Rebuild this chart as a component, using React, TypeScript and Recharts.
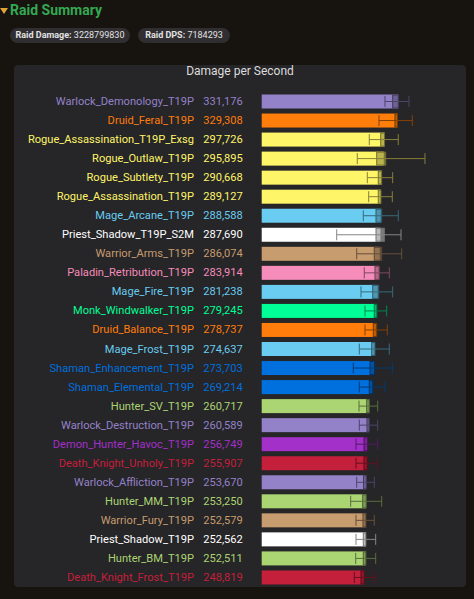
import React from "react";
import { BarChart, Bar, XAxis, YAxis } from "recharts";

const names = [
  "Warlock_Demonology_T19P",
  "Druid_Feral_T19P",
  "Rogue_Assassination_T19P_Exsg",
  "Rogue_Outlaw_T19P",
  "Rogue_Subtlety_T19P",
  "Rogue_Assassination_T19P",
  "Mage_Arcane_T19P",
  "Priest_Shadow_T19P_S2M",
  "Warrior_Arms_T19P",
  "Paladin_Retribution_T19P",
  "Mage_Fire_T19P",
  "Monk_Windwalker_T19P",
  "Druid_Balance_T19P",
  "Mage_Frost_T19P",
  "Shaman_Enhancement_T19P",
  "Shaman_Elemental_T19P",
  "Hunter_SV_T19P",
  "Warlock_Destruction_T19P",
  "Demon_Hunter_Havoc_T19P",
  "Death_Knight_Unholy_T19P",
  "Warlock_Affliction_T19P",
  "Hunter_MM_T19P",
  "Warrior_Fury_T19P",
  "Priest_Shadow_T19P",
  "Hunter_BM_T19P",
  "Death_Knight_Frost_T19P",
];

const dpsValues = [
  331176, 329308, 297726, 295895, 290668, 289127, 288588, 287690, 286074, 283914,
  281238, 279245, 278737, 274637, 273703, 269214, 260717, 260589, 256749, 255907,
  253670, 253250, 252579, 252562, 252511, 248819,
];

const boxLow = [
  317500, 323100, 288500, 278800, 282600, 282600, 277100, 277100, 272900, 274600,
  269100, 272900, 270500, 266600, 262500, 260800, 254500, 255200, 248000, 248000,
  246800, 244800, 245500, 246300, 246300, 240700,
];

const boxHigh = [
  331200, 329300, 297700, 300600, 290700, 289100, 290900, 297200, 290900, 285100,
  283600, 279200, 278700, 274600, 273700, 269200, 260700, 260600, 256700, 255900,
  253700, 253300, 252600, 252600, 252500, 248800,
];

const rangeLow = [
  298900, 284300, 260800, 231700, 256000, 259400, 246300, 181800, 230300, 248700,
  240700, 250400, 250400, 236600, 222000, 236600, 235900, 236600, 228600, 228600,
  230300, 215700, 228600, 228600, 227900, 224500,
];

const rangeHigh = [
  357000, 365100, 331100, 395800, 317500, 316600, 331100, 337700, 339400, 309300,
  317500, 303000, 304500, 309300, 316600, 298900, 281200, 281200, 281200, 278800,
  272900, 290900, 272900, 276300, 276300, 272900,
];

const raidDamage = "3228799830";
const raidDps = "7184293";

const classColors: [string, string][] = [
  ["Death_Knight", "#C41F3B"],
  ["Demon_Hunter", "#A330C9"],
  ["Warlock", "#9482C9"],
  ["Warrior", "#C79C6E"],
  ["Druid", "#FF7D0A"],
  ["Rogue", "#FFF569"],
  ["Mage", "#69CCF0"],
  ["Priest", "#FFFFFF"],
  ["Paladin", "#F58CBA"],
  ["Monk", "#00FF96"],
  ["Shaman", "#0070DE"],
  ["Hunter", "#ABD473"],
];

function colorFor(name: string): string {
  const hit = classColors.find(([p]) => name.startsWith(p));
  return hit ? hit[1] : "#cccccc";
}

function shade(hex: string, f: number): string {
  const n = parseInt(hex.slice(1), 16);
  const r = Math.round(((n >> 16) & 255) * f);
  const g = Math.round(((n >> 8) & 255) * f);
  const b = Math.round((n & 255) * f);
  return `rgb(${r},${g},${b})`;
}

const data = names.map((name, i) => ({
  name,
  dps: dpsValues[i],
  boxLo: boxLow[i],
  boxHi: boxHigh[i],
  lo: rangeLow[i],
  hi: rangeHigh[i],
  color: colorFor(name),
}));

const FONT = "Roboto, 'Noto Sans', sans-serif";

function BarShape(props: any) {
  const { x, y, width, height, payload } = props;
  if (!payload || !width) return null;
  const ppu = width / payload.dps;
  const X = (v: number) => x + v * ppu;
  const c = payload.color;
  const cy = y + height / 2;
  const wc = shade(c, 0.52);
  return (
    <g>
      <rect x={x} y={y} width={width} height={height} fill={c} />
      <rect
        x={X(payload.boxLo)}
        y={y + 0.5}
        width={X(payload.boxHi) - X(payload.boxLo)}
        height={height - 1}
        fill={shade(c, 0.62)}
        fillOpacity={0.7}
        stroke={shade(c, 0.45)}
        strokeWidth={1}
      />
      <line x1={X(payload.lo)} x2={X(payload.hi)} y1={cy} y2={cy} stroke={wc} strokeWidth={1} />
      <line x1={X(payload.lo)} x2={X(payload.lo)} y1={cy - 5.5} y2={cy + 5.5} stroke={wc} strokeWidth={1} />
      <line x1={X(payload.hi)} x2={X(payload.hi)} y1={cy - 5.5} y2={cy + 5.5} stroke={wc} strokeWidth={1} />
    </g>
  );
}

function NameTick(props: any) {
  const { x, y, payload } = props;
  const idx = names.indexOf(payload.value);
  const c = colorFor(payload.value);
  return (
    <g>
      <text x={x - 67.7} y={y} dy="0.36em" textAnchor="end" fill={c} fontSize={11.1} fontFamily={FONT}>
        {payload.value}
      </text>
      <text x={x - 58.5} y={y} dy="0.36em" textAnchor="start" fill={c} fontSize={11.1} fontFamily={FONT}>
        {idx >= 0 ? dpsValues[idx].toLocaleString("en-US") : ""}
      </text>
    </g>
  );
}

function Pill({ label, value, left, width }: { label: string; value: string; left: number; width: number }) {
  return (
    <div
      style={{
        position: "absolute",
        left,
        top: 28,
        width,
        height: 15,
        borderRadius: 8,
        background: "#302e31",
        color: "#e2e2e2",
        fontFamily: FONT,
        fontSize: 9,
        lineHeight: "15px",
        textAlign: "center",
        whiteSpace: "nowrap",
      }}
    >
      <b>{label}</b> {value}
    </div>
  );
}

export default function App() {
  return (
    <div
      style={{
        position: "absolute",
        left: 0,
        top: 0,
        width: 474,
        height: 599,
        background: "#17130f",
        overflow: "hidden",
      }}
    >
      <div
        style={{
          position: "absolute",
          left: 0,
          top: 2,
          width: 0,
          height: 0,
          borderLeft: "4px solid transparent",
          borderRight: "4px solid transparent",
          borderTop: "6px solid #e0a33a",
          marginTop: 6,
        }}
      />
      <div
        style={{
          position: "absolute",
          left: 10,
          top: 1,
          fontFamily: FONT,
          fontWeight: 700,
          fontSize: 14,
          lineHeight: "18px",
          color: "#34a853",
        }}
      >
        Raid Summary
      </div>
      <Pill label="Raid Damage:" value={raidDamage} left={10} width={120} />
      <Pill label="Raid DPS:" value={raidDps} left={138} width={92} />
      <div
        style={{
          position: "absolute",
          left: 14,
          top: 65,
          width: 452,
          height: 522,
          background: "#262528",
          borderRadius: 4,
        }}
      />
      <div
        style={{
          position: "absolute",
          left: 14,
          top: 63,
          width: 452,
          textAlign: "center",
          fontFamily: FONT,
          fontSize: 12,
          lineHeight: "16px",
          color: "#dcdcdc",
        }}
      >
        Damage per Second
      </div>
      <div style={{ position: "absolute", left: 0, top: 0 }}>
        <BarChart
          width={474}
          height={599}
          data={data}
          layout="vertical"
          margin={{ top: 91.5, bottom: 12.5, left: 0, right: 47.3 }}
          barSize={14}
        >
          <XAxis type="number" domain={[0, 400000]} hide />
          <YAxis
            type="category"
            dataKey="name"
            width={261.7}
            axisLine={false}
            tickLine={false}
            tickSize={0}
            tickMargin={0}
            interval={0}
            tick={<NameTick />}
          />
          <Bar dataKey="dps" isAnimationActive={false} shape={<BarShape />} />
        </BarChart>
      </div>
    </div>
  );
}
